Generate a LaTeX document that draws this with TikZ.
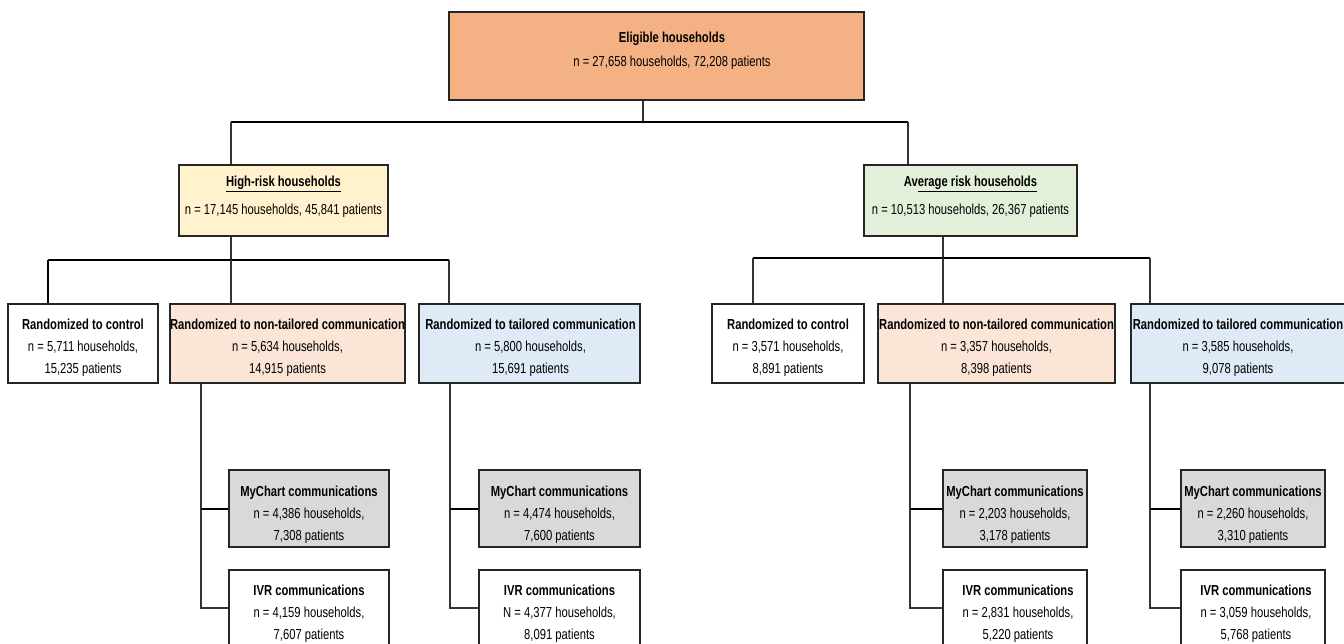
\documentclass[tikz,border=0pt]{standalone}
\usepackage{fontspec}
\setmainfont{Liberation Sans}[FakeStretch=0.775]
\begin{document}
\begin{tikzpicture}[x=1pt,y=-1pt,
  box/.style={draw=black!85, line width=1.3pt, inner sep=0pt, rectangle},
  txt/.style={align=center, inner sep=0pt, font=\fontsize{14.5}{22}\selectfont},
  conn/.style={draw=black, line width=2pt},
  lconn/.style={draw=black!80, line width=1.3pt}]
\useasboundingbox (0,0) rectangle (1344,644);
\clip (0,0) rectangle (1344,644);
\definecolor{cTop}{HTML}{F4B183}
\definecolor{cHigh}{HTML}{FFF2CC}
\definecolor{cAvg}{HTML}{E2F0D9}
\definecolor{cNT}{HTML}{FBE5D6}
\definecolor{cT}{HTML}{DEEBF7}
\definecolor{cMy}{HTML}{D9D9D9}
% top
\node[box, fill=cTop, minimum width=415, minimum height=88] (top) at (656.5,56) {};
\node[txt, font=\fontsize{14.5}{24}\selectfont] (topt) at (672,51) {\textbf{Eligible households}\\n = 27,658 households, 72,208 patients};
% risk boxes
\node[box, fill=cHigh, minimum width=209, minimum height=71] (high) at (283.5,200.5) {};
\node[txt, font=\fontsize{14.5}{28}\selectfont] (hight) at (283.5,197) {\textbf{\underline{High-risk households}}\\n = 17,145 households, 45,841 patients};
\node[box, fill=cAvg, minimum width=213, minimum height=71] (avg) at (970.5,200.5) {};
\node[txt, font=\fontsize{14.5}{28}\selectfont] (avgt) at (970.5,197) {\textbf{Av\underline{erage risk households}}\\n = 10,513 households, 26,367 patients};
% randomized left
\node[box, fill=white, minimum width=150, minimum height=79] (ctrlL) at (83,343.5) {};
\node[txt] (ctrlLt) at (83,348) {\textbf{Randomized to control}\\n = 5,711 households,\\15,235 patients};
\node[box, fill=cNT, minimum width=235, minimum height=79] (ntL) at (287.5,343.5) {};
\node[txt] (ntLt) at (287.5,348) {\textbf{Randomized to non-tailored communication}\\n = 5,634 households,\\14,915 patients};
\node[box, fill=cT, minimum width=221, minimum height=79] (tL) at (529.5,343.5) {};
\node[txt] (tLt) at (530.5,348) {\textbf{Randomized to tailored communication}\\n = 5,800 households,\\15,691 patients};
% randomized right
\node[box, fill=white, minimum width=152, minimum height=79] (ctrlR) at (788,343.5) {};
\node[txt] (ctrlRt) at (788,348) {\textbf{Randomized to control}\\n = 3,571 households,\\8,891 patients};
\node[box, fill=cNT, minimum width=237, minimum height=79] (ntR) at (996.5,343.5) {};
\node[txt] (ntRt) at (996.5,348) {\textbf{Randomized to non-tailored communication}\\n = 3,357 households,\\8,398 patients};
\node[box, fill=cT, minimum width=219, minimum height=79] (tR) at (1240.5,343.5) {};
\node[txt] (tRt) at (1238,348) {\textbf{Randomized to tailored communication}\\n = 3,585 households,\\9,078 patients};
% sub boxes
\node[box, fill=cMy, minimum width=160, minimum height=77] (myL) at (309,508.5) {};
\node[txt] (myLt) at (309,514.5) {\textbf{MyChart communications}\\n = 4,386 households,\\7,308 patients};
\node[box, fill=white, minimum width=160, minimum height=84] (ivrL) at (309,612) {};
\node[txt] (ivrLt) at (309,614) {\textbf{IVR communications}\\n = 4,159 households,\\7,607 patients};
\node[box, fill=cMy, minimum width=161, minimum height=77] (myL2) at (559.5,508.5) {};
\node[txt] (myL2t) at (559.5,514.5) {\textbf{MyChart communications}\\n = 4,474 households,\\7,600 patients};
\node[box, fill=white, minimum width=161, minimum height=84] (ivrL2) at (559.5,612) {};
\node[txt] (ivrL2t) at (559.5,614) {\textbf{IVR communications}\\N = 4,377 households,\\8,091 patients};
\node[box, fill=cMy, minimum width=144, minimum height=77] (myR) at (1015,508.5) {};
\node[txt] (myRt) at (1015,514.5) {\textbf{MyChart communications}\\n = 2,203 households,\\3,178 patients};
\node[box, fill=white, minimum width=144, minimum height=84] (ivrR) at (1015,612) {};
\node[txt] (ivrRt) at (1018,614) {\textbf{IVR communications}\\n = 2,831 households,\\5,220 patients};
\node[box, fill=cMy, minimum width=144, minimum height=77] (myR2) at (1253,508.5) {};
\node[txt] (myR2t) at (1253,514.5) {\textbf{MyChart communications}\\n = 2,260 households,\\3,310 patients};
\node[box, fill=white, minimum width=144, minimum height=84] (ivrR2) at (1253,612) {};
\node[txt] (ivrR2t) at (1256,614) {\textbf{IVR communications}\\n = 3,059 households,\\5,768 patients};
% connector coordinates
\coordinate (j0) at (643,122);
\coordinate (jA) at (231,122);
\coordinate (jB) at (908,122);
\coordinate (h0) at (231,260);
\coordinate (h1) at (48,260);
\coordinate (h3) at (449,260);
\coordinate (a0) at (943,258);
\coordinate (a1) at (753,258);
\coordinate (a3) at (1150,258);
\coordinate (sL) at (201,608);
\coordinate (sL2) at (450,608);
\coordinate (sR) at (910,608);
\coordinate (sR2) at (1150,608);
% connectors
\draw[lconn] (top.south -| j0) -- (j0);
\draw[conn] (jA) -- (jB);
\draw[lconn] (jA) -- (high.north -| jA);
\draw[lconn] (jB) -- (avg.north -| jB);
\draw[lconn] (high.south -| h0) -- (h0);
\draw[conn] (h1) -- (h3);
\draw[conn] (h1) -- (ctrlL.north -| h1);
\draw[lconn] (h0) -- (ntL.north -| h0);
\draw[lconn] (h3) -- (tL.north -| h3);
\draw[lconn] (avg.south -| a0) -- (a0);
\draw[conn] (a1) -- (a3);
\draw[lconn] (a1) -- (ctrlR.north -| a1);
\draw[lconn] (a0) -- (ntR.north -| a0);
\draw[lconn] (a3) -- (tR.north -| a3);
% sub connectors
\draw[lconn] (ntL.south -| sL) -- (sL) -- (ivrL.west |- sL);
\draw[conn] (myL.west -| sL) -- (myL.west);
\draw[lconn] (tL.south -| sL2) -- (sL2) -- (ivrL2.west |- sL2);
\draw[conn] (myL2.west -| sL2) -- (myL2.west);
\draw[lconn] (ntR.south -| sR) -- (sR) -- (ivrR.west |- sR);
\draw[conn] (myR.west -| sR) -- (myR.west);
\draw[lconn] (tR.south -| sR2) -- (sR2) -- (ivrR2.west |- sR2);
\draw[conn] (myR2.west -| sR2) -- (myR2.west);
\end{tikzpicture}
\end{document}
